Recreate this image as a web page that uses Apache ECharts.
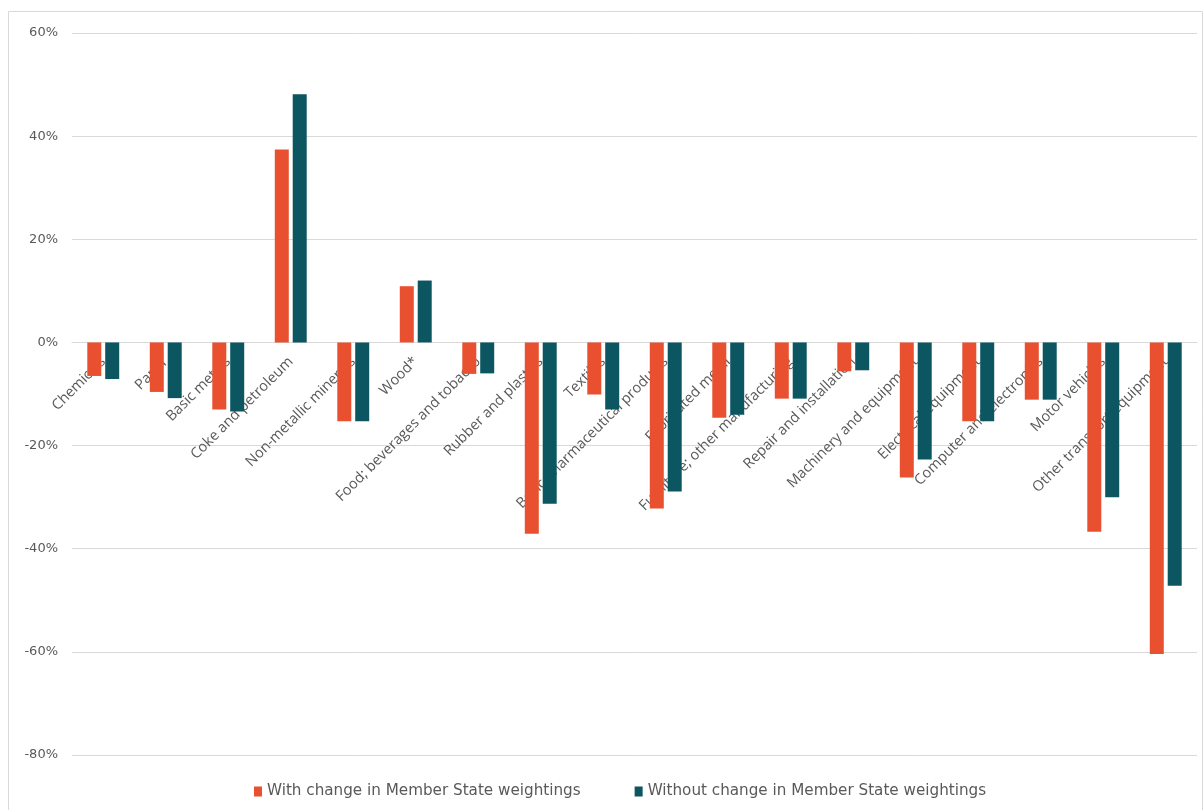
<!DOCTYPE html>
<html>
<head>
<meta charset="utf-8">
<script src="https://cdn.jsdelivr.net/npm/echarts@6/dist/echarts.min.js"></script>
<style>
html,body{margin:0;padding:0;background:#fff;}
#chart{width:1204px;height:810px;}
</style>
</head>
<body>
<div id="chart"></div>
<script>
const categories = [
  "Chemicals", "Paper", "Basic metals", "Coke and petroleum", "Non-metallic minerals",
  "Wood*", "Food; beverages and tobacco", "Rubber and plastics", "Textiles",
  "Basic pharmaceutical products", "Fabricated metal", "Furniture; other manufacturing",
  "Repair and installation", "Machinery and equipment", "Electrical equipment",
  "Computer and electronics", "Motor vehicles", "Other transport equipment"
];
const withChange = [-6.5, -9.6, -13.0, 37.4, -15.3, 10.9, -6.1, -37.1, -10.1, -32.2, -14.6, -10.9, -5.6, -26.2, -15.3, -11.1, -36.7, -60.4];
const withoutChange = [-7.1, -10.8, -13.4, 48.1, -15.3, 12.0, -6.0, -31.3, -13.0, -28.9, -14.0, -10.9, -5.4, -22.7, -15.3, -11.1, -30.0, -47.2];
const seriesNames = ["With change in Member State weightings", "Without change in Member State weightings"];
const yTicks = { min: -80, max: 60, interval: 20 };

const chart = echarts.init(document.getElementById('chart'), null, { renderer: 'canvas' });
chart.setOption({
  animation: false,
  backgroundColor: '#ffffff',
  color: ['#E9502F', '#0B5660'],
  graphic: [{
    type: 'rect',
    shape: { x: 8.5, y: 11.5, width: 1194, height: 810 },
    style: { fill: 'none', stroke: '#d9d9d9', lineWidth: 1 },
    silent: true, z: -1
  }],
  grid: { left: 72, right: 7, top: 33, bottom: 55, containLabel: false, outerBoundsMode: 'none' },
  legend: {
    bottom: 6,
    left: 249,
    icon: 'rect',
    itemWidth: 8,
    itemHeight: 10,
    itemGap: 54,
    textStyle: { fontFamily: 'DejaVu Sans', fontSize: 15.2, color: '#595959' },
    data: seriesNames
  },
  xAxis: {
    type: 'category',
    data: categories,
    axisLine: { onZero: false, lineStyle: { color: '#d9d9d9', width: 1 } },
    axisTick: { show: false },
    axisLabel: {
      rotate: 45,
      interval: 0,
      margin: 17,
      fontFamily: 'Open Sans',
      fontSize: 14.5,
      color: '#595959'
    },
    splitLine: { show: false }
  },
  yAxis: {
    type: 'value',
    min: yTicks.min,
    max: yTicks.max,
    interval: yTicks.interval,
    axisLine: { show: false },
    axisTick: { show: false },
    axisLabel: {
      formatter: v => v + '%',
      margin: 14,
      fontFamily: 'DejaVu Sans',
      fontSize: 13,
      color: '#595959'
    },
    splitLine: { lineStyle: { color: '#d9d9d9', width: 1 } }
  },
  series: [
    { name: seriesNames[0], type: 'bar', data: withChange, barWidth: 14, barGap: '28%' },
    { name: seriesNames[1], type: 'bar', data: withoutChange, barWidth: 14, barGap: '28%' }
  ]
});
// Place the category axis on the zero line, using the value axis scale.
for (let i = 0; i < 3; i++) {
  const y0 = chart.convertToPixel({ yAxisIndex: 0 }, 0);
  const yBottom = chart.convertToPixel({ yAxisIndex: 0 }, yTicks.min);
  chart.setOption({ xAxis: { offset: y0 - yBottom } });
}
</script>
</body>
</html>
